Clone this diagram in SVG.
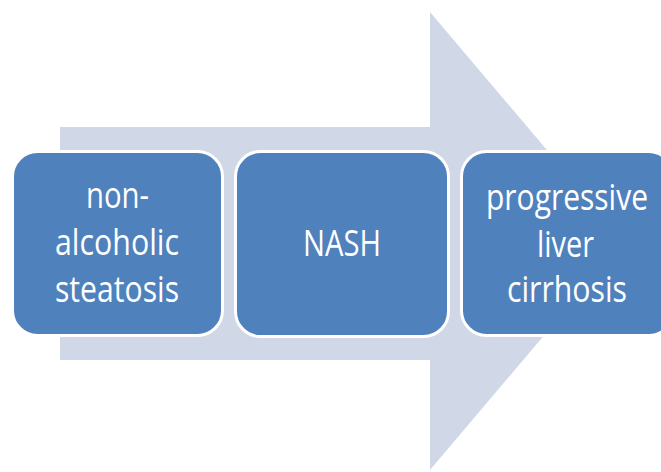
<svg xmlns="http://www.w3.org/2000/svg" width="661" height="472" viewBox="0 0 661 472">
<style>
.box{fill:#4F81BD;stroke:#FFFFFF;stroke-width:3}
.t{font-family:"Open Sans","Noto Sans",sans-serif;font-size:37px;fill:#FFFFFF;text-anchor:middle}
</style>
<rect width="661" height="472" fill="#FFFFFF"/>
<g id="connectors">
<polygon points="60,127 430,127 430,12 624,241 430,470 430,360 60,360" fill="#D0D8E8"/>
</g>
<g id="node1">
<rect class="box" x="12.5" y="151.5" width="210" height="184" rx="25"/>
<text class="t" x="117.5" y="208" textLength="63" lengthAdjust="spacingAndGlyphs">non-</text>
<text class="t" x="117" y="255" textLength="124" lengthAdjust="spacingAndGlyphs">alcoholic</text>
<text class="t" x="117" y="302" textLength="124" lengthAdjust="spacingAndGlyphs">steatosis</text>
</g>
<g id="node2">
<rect class="box" x="235.5" y="151.5" width="213" height="185" rx="25"/>
<text class="t" x="342" y="256" textLength="78" lengthAdjust="spacingAndGlyphs">NASH</text>
</g>
<g id="node3">
<rect class="box" x="461.5" y="151.5" width="212" height="184" rx="25"/>
<text class="t" x="567" y="210" textLength="162" lengthAdjust="spacingAndGlyphs">progressive</text>
<text class="t" x="565.5" y="257" textLength="57" lengthAdjust="spacingAndGlyphs">liver</text>
<text class="t" x="567" y="302" textLength="120" lengthAdjust="spacingAndGlyphs">cirrhosis</text>
</g>
</svg>
